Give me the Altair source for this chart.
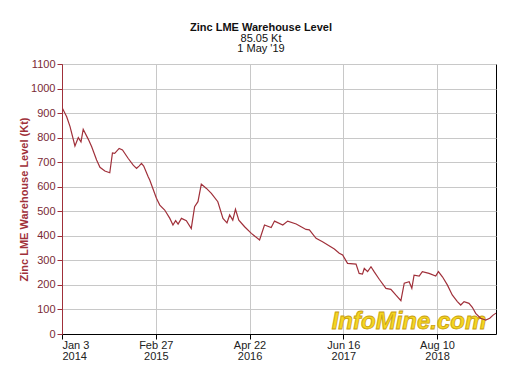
import altair as alt
import pandas as pd

dates = [
    "2014-01-03", "2014-01-24", "2014-02-08", "2014-03-02", "2014-03-17", "2014-03-29",
    "2014-04-08", "2014-05-01", "2014-05-16", "2014-06-07", "2014-06-22", "2014-07-14",
    "2014-08-05", "2014-08-17", "2014-08-27", "2014-09-16", "2014-10-01", "2014-10-26",
    "2014-11-18", "2014-12-03", "2014-12-14", "2014-12-25", "2015-01-04", "2015-01-24",
    "2015-01-31", "2015-03-02", "2015-03-17", "2015-04-08", "2015-05-01", "2015-05-15",
    "2015-05-27", "2015-06-07", "2015-06-22", "2015-07-14", "2015-08-05", "2015-08-20",
    "2015-09-04", "2015-09-19", "2015-10-12", "2015-11-03", "2015-12-02", "2015-12-25",
    "2016-01-12", "2016-01-24", "2016-02-07", "2016-02-19", "2016-03-05", "2016-03-31",
    "2016-04-30", "2016-06-06", "2016-06-28", "2016-07-28", "2016-08-12", "2016-09-18",
    "2016-10-10", "2016-11-17", "2016-12-09", "2016-12-31", "2017-01-15", "2017-02-14",
    "2017-03-15", "2017-05-07", "2017-05-29", "2017-06-13", "2017-07-05", "2017-08-12",
    "2017-08-26", "2017-09-10", "2017-09-18", "2017-10-03", "2017-10-18", "2017-11-01",
    "2017-11-24", "2017-12-24", "2018-01-15", "2018-02-06", "2018-03-01", "2018-03-16",
    "2018-04-07", "2018-04-19", "2018-04-29", "2018-05-22", "2018-06-05", "2018-07-05",
    "2018-08-04", "2018-08-16", "2018-09-03", "2018-09-25", "2018-10-17", "2018-11-09",
    "2018-11-24", "2018-12-09", "2018-12-31", "2019-01-15", "2019-01-30", "2019-02-21",
    "2019-03-16", "2019-04-03", "2019-04-18", "2019-05-01",
]
levels = [
    923, 885, 845, 766, 800, 783,
    834, 793, 763, 709, 679, 664,
    657, 738, 736, 756, 750, 716,
    688, 675, 684, 695, 684, 641,
    627, 553, 525, 505, 471, 444,
    462, 448, 471, 462, 430, 519,
    539, 611, 593, 573, 539, 471,
    453, 485, 464, 508, 464, 437,
    410, 383, 444, 434, 460, 444,
    460, 448, 437, 426, 424, 390,
    376, 346, 329, 322, 288, 285,
    247, 244, 267, 254, 274, 254,
    223, 186, 182, 159, 136, 207,
    213, 186, 240, 236, 254, 247,
    236, 254, 233, 200, 159, 132,
    118, 132, 125, 109, 84, 64,
    57, 64, 77, 85.05,
]

title_lines = ["Zinc LME Warehouse Level"]
subtitle_lines = ["85.05 Kt", "1 May '19"]
y_title = "Zinc LME Warehouse Level (Kt)"
y_ticks = list(range(0, 1101, 100))
x_ticks = [(2014, 1, 3), (2015, 2, 27), (2016, 4, 22), (2017, 6, 16), (2018, 8, 10)]
watermark = ["InfoMine.com"]

FONT = "Liberation Sans"
RED = "#a0303a"
GRID = "#c8c8c8"

df = pd.DataFrame({"date": dates, "level": levels})

x_enc = alt.X(
    "date:T",
    scale=alt.Scale(
        type="utc",
        nice=False,
        domain=[alt.DateTime(year=2014, month=1, date=3, utc=True),
                alt.DateTime(year=2019, month=5, date=1, utc=True)],
    ),
    axis=alt.Axis(
        values=[alt.DateTime(year=y, month=m, date=d, utc=True) for (y, m, d) in x_ticks],
        labelExpr="[utcFormat(datum.value, '%b %-d'), utcFormat(datum.value, '%Y')]",
        title=None,
        grid=True,
        gridColor=GRID,
        domainColor="#000000",
        tickColor="#000000",
        tickSize=5,
        labelColor="#222222",
        labelFont=FONT,
        labelFontSize=11,
        labelLineHeight=11,
        labelPadding=0,
    ),
)

y_enc = alt.Y(
    "level:Q",
    scale=alt.Scale(domain=[0, 1100], nice=False),
    axis=alt.Axis(
        values=y_ticks,
        format="d",
        title=y_title,
        titleColor=RED,
        titleFont=FONT,
        titleFontSize=11,
        titleFontWeight="bold",
        titlePadding=1,
        labelColor="#7a2a35",
        labelFont=FONT,
        labelFontSize=11,
        labelPadding=2,
        tickSize=5,
        domainColor=RED,
        tickColor=RED,
        gridColor=GRID,
    ),
)

line = alt.Chart(df).mark_line(color=RED, strokeWidth=1.2, clip=True).encode(x=x_enc, y=y_enc)

wm = alt.Chart(pd.DataFrame({"t": watermark})).mark_text(
    font=FONT, fontSize=24, fontStyle="italic", fontWeight="bold",
    fill="#f5d621", stroke="#c9a010", strokeWidth=0.8,
    align="center", baseline="alphabetic",
).encode(text="t:N", x=alt.value(347), y=alt.value(265))

chart = alt.layer(wm, line).properties(
    width=434,
    height=270,
    padding={"left": 54, "top": 56, "right": 20, "bottom": 40},
    autosize=alt.AutoSizeParams(type="none"),
    title=alt.TitleParams(
        text=title_lines,
        subtitle=subtitle_lines,
        anchor="middle",
        dx=-18,
        offset=4,
        font=FONT,
        fontSize=11,
        fontWeight="bold",
        color="#111111",
        subtitleFont=FONT,
        subtitleFontSize=11,
        subtitleColor="#111111",
        subtitlePadding=0,
        subtitleLineHeight=10.5,
    ),
).configure_view(stroke="#000000", strokeWidth=1)

chart.save("out.html", embed_options={"renderer": "svg", "actions": False})
